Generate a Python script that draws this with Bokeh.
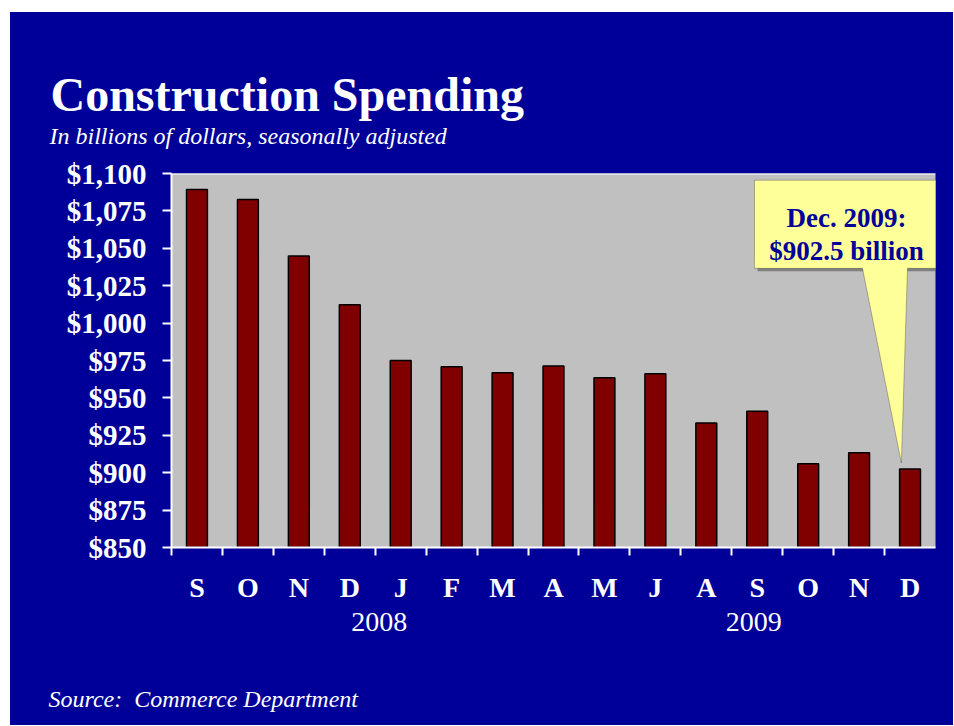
from bokeh.plotting import figure
from bokeh.layouts import column
from bokeh.models import (FixedTicker, NumeralTickFormatter, Label, Span,
                          PolyAnnotation, LinearAxis, Range1d)
from bokeh.embed import file_html
from bokeh.resources import INLINE

# ---- data ----
months = ["S", "O", "N", "D", "J", "F", "M", "A", "M", "J", "A", "S", "O", "N", "D"]
spending = [1089.3, 1082.6, 1044.8, 1012.3, 975.0, 970.8, 966.8, 971.4,
            963.4, 966.1, 933.3, 941.0, 906.0, 913.3, 902.5]
y_ticks = [850, 875, 900, 925, 950, 975, 1000, 1025, 1050, 1075, 1100]
years = ["2008", "2009"]
year_pos = [3.58, 10.93]
title_text = "Construction Spending"
subtitle_text = "In billions of dollars, seasonally adjusted"
source_text = "Source:\u00a0 Commerce Department"
callout_lines = ["Dec. 2009:", "$902.5 billion"]

SERIF = "Liberation Serif"
BLUE = "#000099"
W = 943
H_HEAD, H_MAIN, H_FOOT = 141, 507, 65

# frame geometry (page px) used to place the callout in data units
FX0, FX1, FY0, FY1 = 171.0, 935.0, 173.3, 546.7
XMIN, XMAX, YMIN, YMAX = -0.5, 14.5, 850, 1100


def px2x(px):
    return XMIN + (px - FX0) * (XMAX - XMIN) / (FX1 - FX0)


def py2y(py):
    return YMIN + (FY1 - py) * (YMAX - YMIN) / (FY1 - FY0)


def text_panel(height):
    f = figure(width=W, height=height, x_range=Range1d(0, W), y_range=Range1d(height, 0),
               output_backend="svg", toolbar_location=None,
               x_axis_type=None, y_axis_type=None, frame_align=False,
               min_border_left=0, min_border_right=0, min_border_top=0, min_border_bottom=0,
               border_fill_color=BLUE, background_fill_color=BLUE, outline_line_color=None)
    f.xgrid.visible = False
    f.ygrid.visible = False
    return f


# ---- header ----
head = text_panel(H_HEAD)
head.add_layout(Label(x=40, y=81.5, text=title_text, text_font=SERIF,
                      text_font_style="bold", text_font_size="48px", text_color="white",
                      text_baseline="alphabetic"))
head.add_layout(Label(x=39, y=123, text=subtitle_text, text_font=SERIF,
                      text_font_style="italic", text_font_size="24px", text_color="white",
                      text_baseline="alphabetic"))

# ---- main chart ----
p = figure(width=W, height=H_MAIN, x_range=(XMIN, XMAX), y_range=(YMIN, YMAX),
           output_backend="svg", toolbar_location=None, frame_align=False,
           min_border_left=161, min_border_right=18, min_border_top=20, min_border_bottom=113,
           border_fill_color=BLUE, background_fill_color="#C0C0C0",
           outline_line_color=None)
p.xgrid.visible = False
p.ygrid.visible = False

xs = list(range(len(months)))
p.vbar(x=xs, top=spending, bottom=YMIN, width=0.41,
       fill_color="#800000", line_color="black", line_width=1.5)

p.add_layout(Span(location=YMAX, dimension="width", line_color="white", line_width=2))

# x axis (month letters, ticks between bars)
xa = p.xaxis[0]
xa.ticker = FixedTicker(ticks=xs, minor_ticks=[i - 0.5 for i in xs])
xa.major_label_overrides = {i: m for i, m in enumerate(months)}
xa.major_tick_line_color = None
xa.major_tick_out = 0
xa.major_tick_in = 0
xa.minor_tick_line_color = "white"
xa.minor_tick_line_width = 2
xa.minor_tick_out = 8
xa.minor_tick_in = 0
xa.axis_line_color = "white"
xa.axis_line_width = 2
xa.major_label_text_color = "white"
xa.major_label_text_font = SERIF
xa.major_label_text_font_style = "bold"
xa.major_label_text_font_size = "28px"
xa.major_label_standoff = 16

# second x axis: years
yr_axis = LinearAxis(ticker=FixedTicker(ticks=year_pos),
                     major_label_overrides={xp: yr for xp, yr in zip(year_pos, years)})
yr_axis.axis_line_color = None
yr_axis.major_tick_line_color = None
yr_axis.minor_tick_line_color = None
yr_axis.major_tick_out = 0
yr_axis.major_tick_in = 0
yr_axis.major_label_text_color = "white"
yr_axis.major_label_text_font = SERIF
yr_axis.major_label_text_font_size = "28px"
yr_axis.major_label_standoff = 7
p.add_layout(yr_axis, "below")

# y axis
ya = p.yaxis[0]
ya.ticker = FixedTicker(ticks=y_ticks)
ya.formatter = NumeralTickFormatter(format="$0,0")
ya.major_tick_line_color = "white"
ya.major_tick_line_width = 2
ya.major_tick_out = 9
ya.major_tick_in = 0
ya.minor_tick_line_color = None
ya.axis_line_color = "white"
ya.axis_line_width = 2
ya.major_label_text_color = "white"
ya.major_label_text_font = SERIF
ya.major_label_text_font_style = "bold"
ya.major_label_text_font_size = "29px"
ya.major_label_standoff = 16

# callout
tip_x = xs[-1] - 0.17
tip_y = spending[-1] + 4
bx0, bx1 = px2x(754), px2x(938)
by0, by1 = py2y(180), py2y(268)
cx0, cx1 = px2x(862), px2x(907)
sdx = (XMAX - XMIN) / (FX1 - FX0) * 3
sdy = (YMAX - YMIN) / (FY1 - FY0) * 3
p.add_layout(PolyAnnotation(xs=[bx0 + sdx, bx1 + sdx, bx1 + sdx, bx0 + sdx],
                            ys=[by0 - sdy, by0 - sdy, by1 - sdy, by1 - sdy],
                            fill_color="#555555", fill_alpha=0.6, line_color=None))
p.add_layout(PolyAnnotation(xs=[bx0, bx1, bx1, cx1, tip_x, cx0, bx0],
                            ys=[by0, by0, by1, by1, tip_y, by1, by1],
                            fill_color="#FFFF99", fill_alpha=1.0,
                            line_color="#222222", line_width=1))
for line, base in zip(callout_lines, [218, 250.5]):
    p.add_layout(Label(x=px2x(846), y=py2y(base), text=line, text_font=SERIF,
                       text_font_style="bold", text_font_size="27px", text_color=BLUE,
                       text_align="center", text_baseline="alphabetic"))

# ---- footer ----
foot = text_panel(H_FOOT)
foot.add_layout(Label(x=38, y=38, text=source_text, text_font=SERIF,
                      text_font_style="italic", text_font_size="24px", text_color="white",
                      text_baseline="alphabetic"))

page = column(head, p, foot, spacing=0, margin=(12, 0, 0, 10),
              styles={"background-color": BLUE})

open("out.html", "w").write(file_html(page, INLINE))
